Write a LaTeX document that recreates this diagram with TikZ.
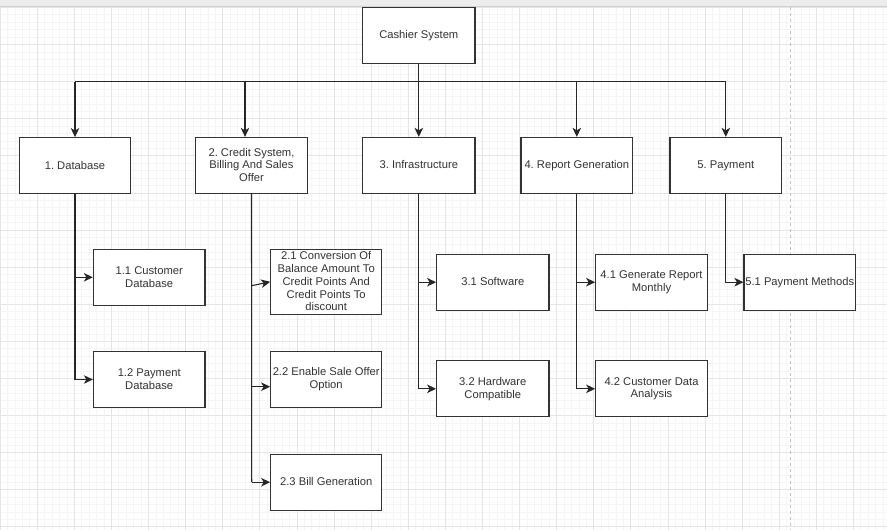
\documentclass[tikz,border=0pt]{standalone}
\usepackage{fontspec}
\setmainfont{Liberation Sans}
\usetikzlibrary{arrows.meta,calc}
\frenchspacing
% balanced line strut so capitals sit on the box centre
\newcommand\vstr{\rule[-1pt]{0pt}{9pt}}

\tikzset{
  minorgrid/.style={draw=black!4, line width=0.5pt},
  majorgrid/.style={draw=black!10, line width=0.6pt},
  box/.style={draw=black!80, line width=1.1pt, fill=white, align=center,
    inner sep=0pt, text=black!80,
    font=\fontsize{11.2}{12.8}\selectfont,
    execute at begin node=\vstr, execute at end node=\vstr,
    minimum width=111.6pt, minimum height=55.8pt},
  link/.style={draw=black!85, line width=1.1pt},
  arr/.style={link, -{Stealth[length=9pt, width=8.5pt, inset=2.5pt]}},
}

\begin{document}
\begin{tikzpicture}[x=1pt, y=-1pt]
\useasboundingbox (0,0) rectangle (887,530);
\fill[white] (0,0) rectangle (887,530);

% canvas grid
\foreach \i in {0,...,119} {\draw[minorgrid] ({\i*7.42},6.5) -- ({\i*7.42},530);}
\foreach \j in {0,...,70} {\draw[minorgrid] (0,{7.3+\j*7.42}) -- (887,{7.3+\j*7.42});}
\foreach \i in {0,...,24} {\draw[majorgrid] ({\i*37.1},6.5) -- ({\i*37.1},530);}
\foreach \j in {0,...,14} {\draw[majorgrid] (0,{7.3+\j*37.1}) -- (887,{7.3+\j*37.1});}

% top strip and page break marker
\fill[black!7] (0,0) rectangle (887,6.5);
\draw[black!18, line width=0.6pt] (0,6.5) -- (887,6.5);
\draw[black!25, line width=1pt, dash pattern=on 3pt off 3pt] (790.8,6.5) -- (790.8,530);

% root
\node[box, minimum width=112.3pt, minimum height=56pt] (cs) at (418.8,35.3) {Cashier System};

% first level
\node[box] (db)  at (75,165.5)    {1. Database};
\node[box] (cr)  at (251.5,165.3) {2. Credit System,\\Billing And Sales\\Offer};
\node[box, minimum width=112.3pt] (inf) at (418.8,165.3) {3. Infrastructure};
\node[box] (rep) at (576.8,165.3) {4. Report Generation};
\node[box] (pay) at (725.8,165.3) {5. Payment};

% second level
\node[box] (c11) at (149.2,277.3) {1.1 Customer\\Database};
\node[box] (c12) at (149.2,379.5) {1.2 Payment\\Database};
\node[box, minimum width=111pt, minimum height=65pt] (c21) at (326.2,281.8)
  {2.1 Conversion Of\\Balance Amount To\\Credit Points And\\Credit Points To\\discount};
\node[box, minimum width=111pt] (c22) at (326.2,379.5) {2.2 Enable Sale Offer\\Option};
\node[box, minimum width=111pt] (c23) at (326.2,482.2) {2.3 Bill Generation};
\node[box, minimum width=112.3pt] (c31) at (492.8,282.2) {3.1 Software};
\node[box, minimum width=112.3pt] (c32) at (492.8,388.8) {3.2 Hardware\\Compatible};
\node[box] (c41) at (651.5,282.2) {4.1 Generate Report\\Monthly};
\node[box] (c42) at (651.5,388.8) {4.2 Customer Data\\Analysis};
\node[box] (c51) at (799.8,282.2) {5.1 Payment Methods};

% bus from the root to the first level
\coordinate (b1) at (75,81.7);
\coordinate (b2) at (245,81.7);
\coordinate (b3) at (418.8,81.7);
\coordinate (b4) at (576.8,81.7);
\coordinate (b5) at (725.8,81.7);
\draw[link] (b1) -- (b5);
\draw[link] (cs.south) -- (b3);
\draw[arr] (b1) -- (db.north);
\draw[arr] (b2) -- (b2 |- cr.north);
\draw[arr] (b3) -- (inf.north);
\draw[arr] (b4) -- (rep.north);
\draw[arr] (b5) -- (pay.north);

% branch 1
\draw[arr] (db.south) |- (c11.west);
\draw[arr] (db.south) |- (c12.west);

% branch 2
\coordinate (k21) at (251.7,285.7);
\coordinate (k22) at (251.7,386.7);
\coordinate (k23) at (251.7,482.2);
\draw[link] (cr.south) -- (k23);
\draw[arr] (k21) -- (c21.west);
\draw[arr] (k22) -- (k22 -| c22.west);
\draw[arr] (k23) -- (c23.west);

% branch 3
\draw[arr] (inf.south) |- (c31.west);
\draw[arr] (inf.south) |- (c32.west);

% branch 4
\draw[arr] (rep.south) |- (c41.west);
\draw[arr] (rep.south) |- (c42.west);

% branch 5
\draw[arr] (pay.south) |- (c51.west);
\end{tikzpicture}
\end{document}
